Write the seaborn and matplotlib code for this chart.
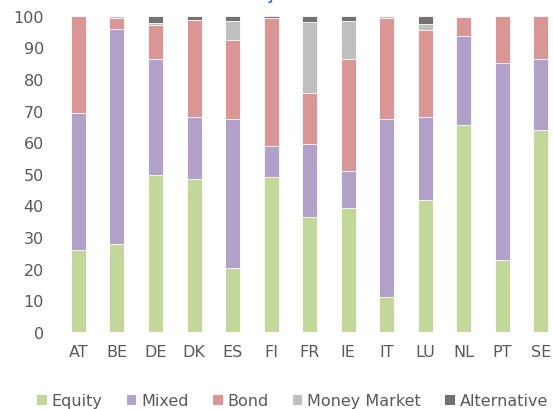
import numpy as np
import pandas as pd
import matplotlib
matplotlib.use("Agg")
import matplotlib.pyplot as plt
import seaborn as sns
from matplotlib.patches import Patch

# share of fund types by country (%)
countries = ["AT", "BE", "DE", "DK", "ES", "FI", "FR", "IE", "IT", "LU", "NL", "PT", "SE"]
equity      = [25.8, 27.8, 49.6, 48.2, 20.2, 49.0, 36.2, 39.1, 11.1, 41.7, 65.4, 22.7, 63.8]
mixed       = [43.5, 68.0, 36.6, 19.8, 47.2,  9.7, 23.1, 11.8, 56.3, 26.1, 28.1, 62.4, 22.6]
bond        = [30.7,  3.6, 11.0, 30.7, 24.9, 40.6, 16.3, 35.5, 31.9, 27.8,  6.1, 14.9, 13.6]
money       = [ 0.0,  0.6,  0.4,  0.0,  6.1,  0.0, 22.4, 11.9,  0.7,  1.7,  0.4,  0.0,  0.0]
alternative = [ 0.0,  0.0,  2.4,  1.3,  1.6,  0.7,  2.0,  1.7,  0.0,  2.7,  0.0,  0.0,  0.0]

series = ["Equity", "Mixed", "Bond", "Money Market", "Alternative"]
colors = ["#C4D79B", "#B1A0C7", "#DA9694", "#BFBFBF", "#767171"]

df = pd.DataFrame({"country": countries, "Equity": equity, "Mixed": mixed,
                   "Bond": bond, "Money Market": money, "Alternative": alternative})
cum = df[series].cumsum(axis=1)

sns.set_theme(style="white")
plt.rcParams["font.family"] = ["DejaVu Sans"]
text_col = "#595959"

fig = plt.figure(figsize=(5.53, 4.10), dpi=100)
ax = fig.add_axes([0.107, 0.1885, 0.892, 0.7707])

# stacked bars: draw cumulative totals from the top series down
for name, col in reversed(list(zip(series, colors))):
    sns.barplot(x=df["country"], y=cum[name], color=col, width=0.39,
                edgecolor="white", linewidth=0.6, ax=ax, saturation=1)

ax.set_xlim(-0.5, 12.3)
ax.set_ylim(0, 100)
ax.set_yticks(range(0, 101, 10))
ax.set_xlabel("")
ax.set_ylabel("")
sns.despine(ax=ax, left=True, bottom=True)
ax.tick_params(axis="y", length=0, pad=11, labelsize=11.5, labelcolor=text_col)
ax.tick_params(axis="x", length=0, pad=9, labelsize=11.5, labelcolor=text_col)

handles = [Patch(facecolor=c, edgecolor="none", label=s) for s, c in zip(series, colors)]
fig.legend(handles=handles, loc="center", bbox_to_anchor=(0.529, 1 - 402 / 410),
           ncol=5, frameon=False, fontsize=11.5, labelcolor=text_col,
           handlelength=0.62, handleheight=0.62, handletextpad=0.3,
           columnspacing=1.5, borderaxespad=0, borderpad=0)

# clipped title remnant at the top edge
fig.text(271 / 553, 1.0 + 1 / 410, "y", color="#1F4EE8", fontsize=12,
         ha="center", va="baseline")

fig.savefig("out.png", dpi=100)
